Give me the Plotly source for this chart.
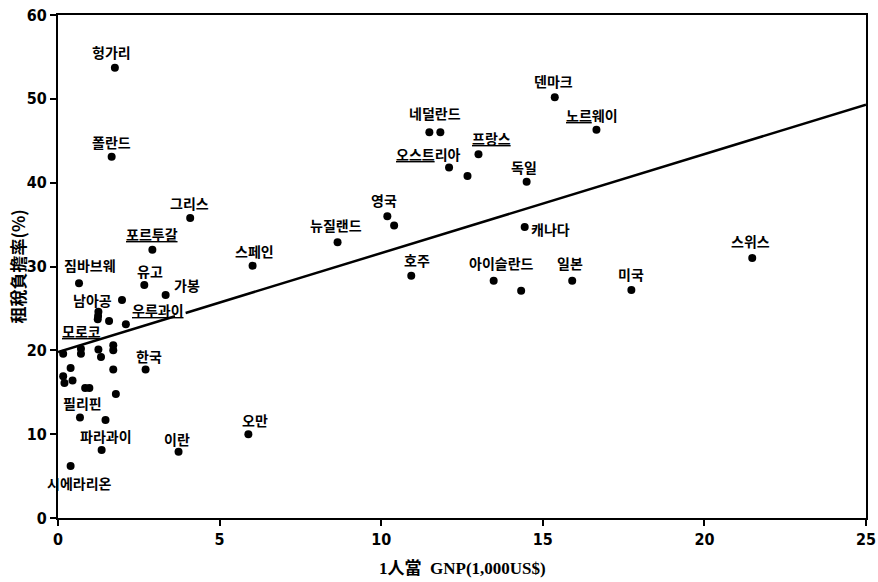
import plotly.graph_objects as go

# ---- data ----
names = ["헝가리", "폴란드", "그리스", "<u>포르투갈</u>", "스페인", "짐바브웨", "유고", "가봉",
         "남아공", "<u>우루과이</u>", "<u>모로코</u>", "한국", "필리핀", "파라과이", "이란",
         "시에라리온", "오만", "덴마크", "네덜란드", "<u>노르</u>웨이", "<u>프랑스</u>",
         "<u>오스트</u>리아", "독일", "영국", "뉴질랜드", "캐나다", "호주", "아이슬란드",
         "일본", "미국", "스위스"]
gnp = [1.76, 1.66, 4.09, 2.92, 6.02, 0.65, 2.67, 3.33,
       1.98, 2.10, 0.71, 2.71, 0.68, 1.35, 3.73,
       0.39, 5.89, 15.37, 11.83, 16.66, 13.01,
       12.10, 14.50, 10.19, 8.65, 14.44, 10.93, 13.48,
       15.91, 17.74, 21.48]
tax = [53.7, 43.1, 35.8, 32.0, 30.1, 28.0, 27.8, 26.6,
       26.0, 23.1, 20.2, 17.7, 12.0, 8.1, 7.9,
       6.2, 10.0, 50.2, 46.0, 46.3, 43.4,
       41.8, 40.1, 36.0, 32.9, 34.7, 28.9, 28.3,
       28.3, 27.2, 31.0]

# unlabeled countries
gnp_other = [11.49, 12.67, 10.40, 14.33, 1.25, 1.23, 1.24, 1.58,
             0.16, 0.71, 1.25, 1.33, 1.71, 1.71, 0.39, 0.16,
             0.20, 0.45, 0.84, 0.97, 1.71, 1.79, 1.47]
tax_other = [46.0, 40.8, 34.9, 27.1, 24.6, 23.7, 24.1, 23.5,
             19.6, 19.6, 20.1, 19.2, 20.6, 20.0, 17.9, 16.9,
             16.1, 16.4, 15.5, 15.5, 17.7, 14.8, 11.7]

# regression line
reg_intercept = 19.8
reg_slope = 1.18
reg_x = [0, 3.62, None, 3.95, 25]

x_ticks = [0, 5, 10, 15, 20, 25]
y_ticks = [0, 10, 20, 30, 40, 50, 60]
x_title = "1人當  GNP(1,000US$)"
y_title = "租稅負擔率(%)"

# label offsets in pixels (style)
label_dx = [-3, 0, -1, 0, 2, 11, 6, 21,
            -29, 32, 1, 3, 3, 4, -2,
            9, 7, -1, -5, -4, 13,
            -21, -3, -3, -2, 26, 6, 8,
            -2, 0, -2]
label_dy = [16, 15, 15, 16, 15, 18, 14, 10,
            0, 14, 18, 14, 14, 14, 13,
            -17, 14, 16, 19, 15, 16,
            14, 15, 16, 17, -2, 16, 18,
            18, 16, 17]

reg_y = [None if v is None else reg_intercept + reg_slope * v for v in reg_x]

fig = go.Figure()
fig.add_trace(go.Scatter(x=reg_x, y=reg_y, mode="lines",
                         line=dict(color="black", width=2.5),
                         hoverinfo="skip", showlegend=False))
fig.add_trace(go.Scatter(x=gnp + gnp_other, y=tax + tax_other, mode="markers",
                         marker=dict(color="black", size=8),
                         cliponaxis=False, showlegend=False))

label_font = dict(family="Noto Sans CJK KR", size=14, color="black", weight="bold")
for n, xv, yv, dx, dy in zip(names, gnp, tax, label_dx, label_dy):
    fig.add_annotation(x=xv, y=yv, xref="x", yref="y", text=n, showarrow=False,
                       xshift=dx, yshift=dy, font=label_font)

fig.add_annotation(xref="paper", yref="paper", x=0.5, y=0, yshift=-50,
                   xanchor="center", yanchor="middle",
                   text=x_title, showarrow=False,
                   font=dict(family="Liberation Serif, Noto Sans CJK KR", size=17,
                             color="black", weight="bold"))
fig.add_annotation(xref="paper", yref="paper", x=0, xshift=-41, y=0.5,
                   xanchor="center", yanchor="middle",
                   text=y_title, textangle=-90, showarrow=False,
                   font=dict(family="Noto Sans CJK KR", size=17,
                             color="black", weight="bold"))

tick_font = dict(family="Liberation Sans Narrow, DejaVu Sans Condensed, Arial Narrow",
                 size=16, color="black", weight="bold")
fig.update_xaxes(range=[0, 25], tickvals=x_ticks, ticks="outside", ticklen=6,
                 tickwidth=2, tickcolor="black", showline=True, linecolor="black",
                 linewidth=2, mirror=True, showgrid=False, zeroline=False,
                 tickfont=tick_font, automargin=False)
fig.update_yaxes(range=[0, 60], tickvals=y_ticks, ticks="outside", ticklen=6,
                 tickwidth=2, tickcolor="black", showline=True, linecolor="black",
                 linewidth=2, mirror=True, showgrid=False, zeroline=False,
                 tickfont=tick_font, automargin=False)
fig.update_layout(width=878, height=582, margin=dict(l=58, r=12, t=15, b=64),
                  plot_bgcolor="white", paper_bgcolor="white")
fig.write_html("out.html", config={"displayModeBar": False},
               post_script="document.body.style.margin='0';")
